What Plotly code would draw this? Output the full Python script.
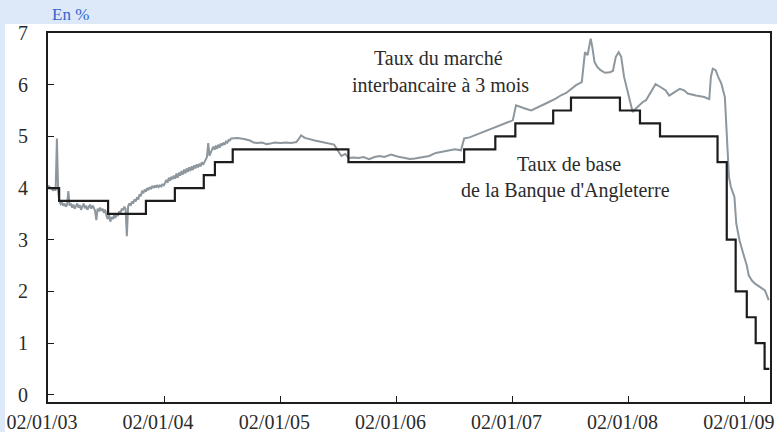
import pandas as pd
import plotly.graph_objects as go

# ---- Data ----
# Bank of England base rate (change dates, new level)
base_dates = ["2003-01-02", "2003-02-06", "2003-07-10", "2003-11-06", "2004-02-05",
              "2004-05-06", "2004-06-10", "2004-08-05", "2005-08-04", "2006-08-03",
              "2006-11-09", "2007-01-11", "2007-05-10", "2007-07-05", "2007-12-06",
              "2008-02-07", "2008-04-10", "2008-10-08", "2008-11-06", "2008-12-04",
              "2009-01-08", "2009-02-05", "2009-03-05", "2009-03-20"]
base_rate = [4.00, 3.75, 3.50, 3.75, 4.00, 4.25, 4.50, 4.75, 4.50, 4.75,
             5.00, 5.25, 5.50, 5.75, 5.50, 5.25, 5.00, 4.50, 3.00, 2.00,
             1.50, 1.00, 0.50, 0.50]

# 3-month interbank rate, noisy period (every 4 days from 2003-01-02)
libor_early_start = "2003-01-02"
libor_early = [
    4.05, 4.02, 4.00, 3.98, 3.96, 3.98, 3.95, 4.96, 3.92, 3.74,
    3.69, 3.72, 3.66, 3.70, 3.64, 3.68, 3.94, 3.66, 3.70, 3.62,
    3.68, 3.60, 3.65, 3.70, 3.62, 3.67, 3.58, 3.64, 3.70, 3.61,
    3.66, 3.58, 3.63, 3.68, 3.60, 3.66, 3.62, 3.56, 3.38, 3.60,
    3.55, 3.62, 3.56, 3.60, 3.52, 3.58, 3.46, 3.40, 3.48, 3.35,
    3.44, 3.40, 3.47, 3.42, 3.50, 3.46, 3.55, 3.52, 3.60, 3.57,
    3.64, 3.60, 3.07, 3.65, 3.70, 3.66, 3.74, 3.70, 3.78, 3.74,
    3.82, 3.78, 3.88, 3.84, 3.95, 3.90, 3.97, 3.93, 4.00, 3.96,
    4.02, 3.98, 4.04, 4.00, 4.05, 4.01, 4.06, 4.02, 4.05, 4.03,
    4.08, 4.04, 4.10, 4.16, 4.10, 4.20, 4.14, 4.22, 4.17, 4.24,
    4.18, 4.28, 4.20, 4.30, 4.24, 4.33, 4.26, 4.36, 4.28, 4.38,
    4.31, 4.40, 4.33, 4.42, 4.35, 4.44, 4.38, 4.46, 4.40, 4.47,
    4.42, 4.50, 4.45, 4.52, 4.55, 4.60, 4.87, 4.62, 4.70, 4.75,
    4.80, 4.74, 4.82, 4.76, 4.84, 4.78, 4.86, 4.82, 4.88, 4.84,
    4.90, 4.88, 4.93, 4.92, 4.96,
]

# 3-month interbank rate, smoother period
libor_late_dates = [
    "2004-08-05", "2004-08-20", "2004-09-10", "2004-09-28", "2004-10-10", "2004-10-20",
    "2004-11-05", "2004-11-20", "2004-12-01", "2004-12-15", "2005-01-02", "2005-01-20",
    "2005-02-05", "2005-02-21", "2005-03-01", "2005-03-08", "2005-03-20", "2005-04-05",
    "2005-04-20", "2005-05-05", "2005-05-20", "2005-06-05", "2005-06-20", "2005-07-02",
    "2005-07-13", "2005-07-25", "2005-08-05", "2005-08-20", "2005-09-05", "2005-09-20",
    "2005-10-08", "2005-10-25", "2005-11-10", "2005-11-25", "2005-12-16", "2006-01-05",
    "2006-01-25", "2006-02-13", "2006-03-01", "2006-03-25", "2006-04-15", "2006-05-06",
    "2006-05-25", "2006-06-17", "2006-07-05", "2006-07-24", "2006-08-03", "2006-08-20",
    "2006-09-05", "2006-09-20", "2006-10-10", "2006-11-01", "2006-11-20", "2006-12-10",
    "2007-01-03", "2007-01-13", "2007-01-25", "2007-02-10", "2007-03-02", "2007-03-20",
    "2007-04-06", "2007-04-25", "2007-05-18", "2007-06-05", "2007-06-20", "2007-07-01",
    "2007-07-21", "2007-08-08", "2007-08-14", "2007-08-18", "2007-08-26", "2007-09-05",
    "2007-09-10", "2007-09-17", "2007-09-25", "2007-10-06", "2007-10-20", "2007-11-05",
    "2007-11-14", "2007-11-23", "2007-12-02", "2007-12-10", "2007-12-19", "2007-12-28",
    "2008-01-08", "2008-01-15", "2008-01-22", "2008-02-03", "2008-02-15", "2008-02-26",
    "2008-03-15", "2008-03-27", "2008-04-10", "2008-04-28", "2008-05-09", "2008-05-25",
    "2008-06-11", "2008-06-25", "2008-07-06", "2008-08-01", "2008-08-27", "2008-09-12",
    "2008-09-17", "2008-09-23", "2008-10-02", "2008-10-10", "2008-10-20", "2008-10-31",
    "2008-11-05", "2008-11-10", "2008-11-13", "2008-11-19", "2008-11-30", "2008-12-06",
    "2008-12-16", "2008-12-28", "2009-01-08", "2009-01-14", "2009-01-24", "2009-02-03",
    "2009-02-18", "2009-03-06", "2009-03-18",
]
libor_late = [
    4.96, 4.97, 4.95, 4.92, 4.88, 4.87,
    4.88, 4.85, 4.86, 4.88, 4.87, 4.88,
    4.87, 4.89, 4.95, 5.02, 4.97, 4.94,
    4.92, 4.90, 4.88, 4.87, 4.84, 4.72,
    4.62, 4.66, 4.58, 4.59, 4.58, 4.60,
    4.56, 4.60, 4.62, 4.60, 4.65, 4.61,
    4.58, 4.56, 4.57, 4.59, 4.62, 4.68,
    4.70, 4.73, 4.75, 4.73, 4.96, 4.98,
    5.02, 5.05, 5.10, 5.15, 5.20, 5.26,
    5.31, 5.60, 5.57, 5.54, 5.50, 5.55,
    5.60, 5.66, 5.73, 5.80, 5.84, 5.89,
    5.99, 6.05, 6.35, 6.63, 6.57, 6.89,
    6.73, 6.44, 6.35, 6.28, 6.23, 6.24,
    6.27, 6.54, 6.63, 6.54, 6.15, 5.92,
    5.63, 5.47, 5.52, 5.60, 5.66, 5.70,
    5.89, 6.01, 5.96, 5.89, 5.79, 5.86,
    5.92, 5.89, 5.83, 5.79, 5.76, 5.72,
    6.15, 6.31, 6.28, 6.15, 6.02, 5.76,
    5.12, 4.47, 4.21, 4.02, 3.83, 3.31,
    2.99, 2.73, 2.50, 2.31, 2.21, 2.15,
    2.08, 2.02, 1.83,
]

tick_dates = ["2003-01-02", "2004-01-02", "2005-01-02", "2006-01-02",
              "2007-01-02", "2008-01-02", "2009-01-02"]
tick_labels = ["02/01/03", "02/01/04", "02/01/05", "02/01/06",
               "02/01/07", "02/01/08", "02/01/09"]
y_ticks = [0, 1, 2, 3, 4, 5, 6, 7]

# ---- Build ----
early_dates = pd.date_range(libor_early_start, periods=len(libor_early), freq="4D")
libor_x = list(early_dates) + list(pd.to_datetime(libor_late_dates))
libor_y = libor_early + libor_late

FONT = "Liberation Serif"
TXT = "#2b2b2b"

fig = go.Figure()
fig.add_trace(go.Scatter(x=libor_x, y=libor_y, mode="lines",
                         line=dict(color="#8d979d", width=2), hoverinfo="skip"))
fig.add_trace(go.Scatter(x=pd.to_datetime(base_dates), y=base_rate, mode="lines",
                         line=dict(color="#1c1c1c", width=2.2, shape="hv"), hoverinfo="skip"))

L, R, T, B = 48, 7, 33, 30
W, H = 777, 432
pw, ph = W - L - R, H - T - B

fig.add_shape(type="rect", xref="paper", yref="paper",
              x0=(5 - L) / pw, x1=(W + 2 - L) / pw,
              y0=(H - B - (H + 2)) / ph, y1=(H - B - 24) / ph,
              fillcolor="white", line=dict(width=0), layer="below")

fig.add_annotation(xref="paper", yref="paper", x=(50 - L) / pw, y=(H - B - 14) / ph,
                   text="En %", showarrow=False, xanchor="left", yanchor="middle",
                   font=dict(family=FONT, size=17, color="#2f66d0"))

for txt, xd, yv in [("Taux du marché", "2006-05-14", 6.52),
                    ("interbancaire à 3 mois", "2006-05-20", 6.00),
                    ("Taux de base", "2007-06-28", 4.46),
                    ("de la Banque d'Angleterre", "2007-06-18", 3.95)]:
    fig.add_annotation(x=xd, y=yv, text=txt, showarrow=False,
                       xanchor="center", yanchor="middle",
                       font=dict(family=FONT, size=20, color=TXT))

fig.update_layout(
    width=W, height=H,
    margin=dict(l=L, r=R, t=T, b=B, pad=0, autoexpand=False),
    paper_bgcolor="#dde9f8", plot_bgcolor="white",
    showlegend=False,
    font=dict(family=FONT, size=20, color=TXT),
)
fig.update_xaxes(type="date", range=["2003-01-02", "2009-03-22"],
                 tickvals=tick_dates, ticktext=tick_labels, automargin=False,
                 ticks="inside", ticklen=6, tickwidth=1.2, tickcolor="#1c1c1c",
                 showline=True, linecolor="#1c1c1c", linewidth=2, mirror=True,
                 showgrid=False, zeroline=False, ticklabelstandoff=1,
                 ticklabelshift=-6, ticklabeloverflow="allow",
                 tickfont=dict(family=FONT, size=20, color=TXT))
fig.update_yaxes(range=[-0.14, 7.0], tickvals=y_ticks, automargin=False,
                 ticks="inside", ticklen=6, tickwidth=1.2, tickcolor="#1c1c1c",
                 showline=True, linecolor="#1c1c1c", linewidth=2, mirror=True,
                 showgrid=False, zeroline=False, ticklabelstandoff=14,
                 ticklabeloverflow="allow",
                 tickfont=dict(family=FONT, size=20, color=TXT))

fig.write_html("out.html", config={"displayModeBar": False},
               post_script="document.body.style.margin='0';document.body.style.overflow='hidden';")
